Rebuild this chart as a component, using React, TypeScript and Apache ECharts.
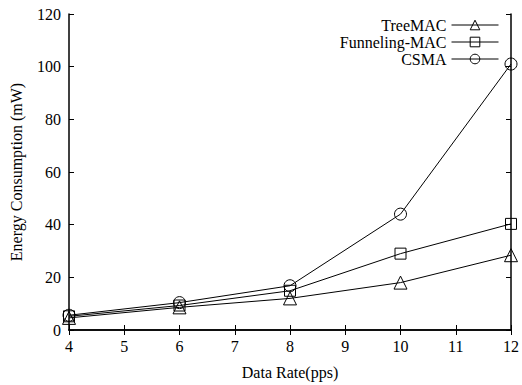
import React, { useEffect, useRef } from "react";
import * as echarts from "echarts";

const xValues = [4, 6, 8, 10, 12];
const treeMAC = [4.6, 8.6, 12.0, 18.0, 28.4];
const funnelingMAC = [5.2, 9.3, 14.9, 29.0, 40.3];
const csma = [5.6, 10.4, 16.8, 44.0, 101.0];
const seriesNames = ["TreeMAC", "Funneling-MAC", "CSMA"];

const FONT = "'Liberation Serif', 'Times New Roman', serif";

export default function App() {
  const ref = useRef<HTMLDivElement>(null);
  useEffect(() => {
    const chart = echarts.init(ref.current!, null, { renderer: "svg" });
    const mk = (name: string, data: number[], symbol: string, size: number) => ({
      name,
      type: "line",
      data: xValues.map((x, i) => [x, data[i]]),
      symbol,
      symbolSize: size,
      showAllSymbol: true,
      lineStyle: { color: "#000", width: 1 },
      itemStyle: { color: "rgba(0,0,0,0)", borderColor: "#000", borderWidth: 1 },
      emphasis: { disabled: true },
    });
    const axisCommon = {
      axisLine: { show: true, lineStyle: { color: "#000", width: 1.5 } },
      axisTick: { show: true, inside: true, length: 5, lineStyle: { color: "#000" } },
      splitLine: { show: false },
    };
    chart.setOption({
      animation: false,
      backgroundColor: "#fff",
      textStyle: { fontFamily: FONT },
      grid: { left: 68, right: 5, top: 14, bottom: 50 },
      legend: {
        orient: "vertical",
        right: 18,
        top: 12,
        align: "right",
        itemWidth: 47,
        itemHeight: 12,
        itemGap: 1,
        data: seriesNames,
        itemStyle: { borderWidth: 1 },
        lineStyle: { width: 1 },
        textStyle: { fontFamily: FONT, fontSize: 16, lineHeight: 14, color: "#000", padding: [0, 0, 0, 0] },
        inactiveColor: "#000",
      },
      xAxis: [
        {
          type: "value",
          min: 4,
          max: 12,
          interval: 1,
          name: "Data Rate(pps)",
          nameLocation: "middle",
          nameGap: 34,
          nameTextStyle: { fontFamily: FONT, fontSize: 16, color: "#000" },
          axisLabel: { fontFamily: FONT, fontSize: 16, color: "#000", margin: 8 },
          ...axisCommon,
        },
        {
          type: "value",
          position: "top",
          min: 4,
          max: 12,
          interval: 1,
          axisLabel: { show: false },
          ...axisCommon,
        },
      ],
      yAxis: [
        {
          type: "value",
          min: 0,
          max: 120,
          interval: 20,
          name: "Energy Consumption (mW)",
          nameLocation: "middle",
          nameGap: 45,
          nameTextStyle: { fontFamily: FONT, fontSize: 16, color: "#000" },
          axisLabel: { fontFamily: FONT, fontSize: 16, color: "#000", margin: 8 },
          ...axisCommon,
        },
        {
          type: "value",
          position: "right",
          min: 0,
          max: 120,
          interval: 20,
          axisLabel: { show: false },
          ...axisCommon,
        },
      ],
      series: [
        mk(seriesNames[0], treeMAC, "triangle", 13),
        mk(seriesNames[1], funnelingMAC, "rect", 11),
        mk(seriesNames[2], csma, "circle", 12),
      ],
    });
    return () => chart.dispose();
  }, []);
  return <div ref={ref} style={{ width: 522, height: 385, position: "absolute", left: 0, top: 0 }} />;
}
